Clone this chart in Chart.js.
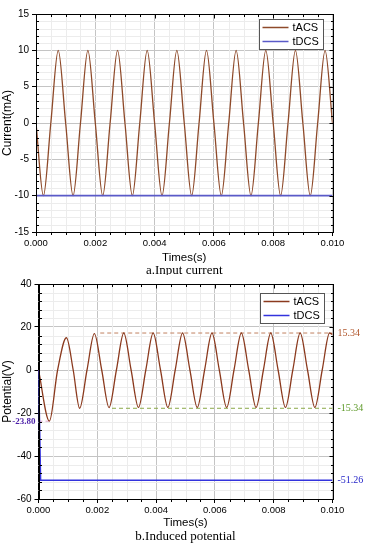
<!DOCTYPE html>
<html>
<head>
<meta charset="utf-8">
<script src="https://cdn.jsdelivr.net/npm/chart.js@4.4.1/dist/chart.umd.min.js"></script>
<style>
  html, body { margin: 0; padding: 0; background: #fff; }
  #wrap { position: relative; width: 372px; height: 550px; }
  canvas { position: absolute; left: 0; }
</style>
</head>
<body>
<div id="wrap">
  <canvas id="currentChart" width="372" height="275" style="top:0"></canvas>
  <canvas id="potentialChart" width="372" height="275" style="top:275px"></canvas>
</div>
<script>
// ---- data ----
const seriesNames = ['tACS', 'tDCS'];
const xTickValues = [0, 0.002, 0.004, 0.006, 0.008, 0.010];
const xTickLabels = ['0.000', '0.002', '0.004', '0.006', '0.008', '0.010'];

// a. Input current
const currentTicks = [-15, -10, -5, 0, 5, 10, 15];
const currentTime = [0, 0.00025, 0.0005, 0.00075, 0.001, 0.00125, 0.0015, 0.00175, 0.002, 0.00225,
  0.0025, 0.00275, 0.003, 0.00325, 0.0035, 0.00375, 0.004, 0.00425, 0.0045, 0.00475,
  0.005, 0.00525, 0.0055, 0.00575, 0.006, 0.00625, 0.0065, 0.00675, 0.007, 0.00725,
  0.0075, 0.00775, 0.008, 0.00825, 0.0085, 0.00875, 0.009, 0.00925, 0.0095, 0.00975, 0.010];
const currentTacs = [0, -10, 0, 10, 0, -10, 0, 10, 0, -10,
  0, 10, 0, -10, 0, 10, 0, -10, 0, 10,
  0, -10, 0, 10, 0, -10, 0, 10, 0, -10,
  0, 10, 0, -10, 0, 10, 0, -10, 0, 10, 0];
const currentDcsTime = [0, 0, 0.010];
const currentDcs = [0, -10, -10];

// b. Induced potential
const potentialTicks = [-60, -40, -20, 0, 20, 40];
const potentialTime = [0, 0.00037, 0.00065, 0.00095, 0.00118, 0.0014, 0.00165, 0.0019, 0.00215, 0.0024,
  0.00265, 0.0029, 0.00315, 0.0034, 0.00365, 0.0039, 0.00415, 0.0044, 0.00465, 0.0049,
  0.00515, 0.0054, 0.00565, 0.0059, 0.00615, 0.0064, 0.00665, 0.0069, 0.00715, 0.0074,
  0.00765, 0.0079, 0.00815, 0.0084, 0.00865, 0.0089, 0.00915, 0.0094, 0.00965, 0.0099, 0.010];
const potentialTacs = [0, -23.8, 0, 15.0, 0, -17.8, 0, 16.9, 0, -17.5,
  0, 17.2, 0, -17.4, 0, 17.2, 0, -17.4, 0, 17.2,
  0, -17.4, 0, 17.2, 0, -17.4, 0, 17.2, 0, -17.4,
  0, 17.2, 0, -17.4, 0, 17.2, 0, -17.4, 0, 17.2, 16.5];
const potentialDcsTime = [0, 0.00007, 0.010];
const potentialDcs = [0, -51.26, -51.26];

// marked levels in panel b (line position, printed label)
const refLevels = [17.2, -17.8, -23.8, -51.26];
const refTexts = ['15.34', '-15.34', '-23.80', '-51.26'];
const refStart = [0.0021, 0.0025, 0, null];
const refEnd = [0.010, 0.010, 0.00037, null];

// ---- helpers ----
const pts = (xs, ys) => xs.map((x, i) => ({ x: x, y: ys[i] }));
const SANS = "'Liberation Sans', Arial, sans-serif";
const SERIF = "'Liberation Serif', 'Times New Roman', serif";
Chart.defaults.font.family = SANS;
Chart.defaults.color = '#000';

// minor grid, frame, mirrored ticks, boxed legend, value labels, caption
const originLook = {
  id: 'originLook',
  beforeDatasetsDraw(chart, args, o) {
    const { ctx, chartArea: a, scales: { x, y } } = chart;
    ctx.save();
    ctx.strokeStyle = '#ececec';
    ctx.lineWidth = 1;
    for (let v = x.min + o.xMinor; v < x.max - 1e-9; v += o.xMinor) {
      if (Math.abs(v / 0.002 - Math.round(v / 0.002)) < 1e-6) continue;
      const px = Math.round(x.getPixelForValue(v)) + 0.5;
      ctx.beginPath(); ctx.moveTo(px, a.top); ctx.lineTo(px, a.bottom); ctx.stroke();
    }
    for (let v = y.min + o.yMinor; v < y.max - 1e-9; v += o.yMinor) {
      if (Math.abs(v / o.yMajor - Math.round(v / o.yMajor)) < 1e-6) continue;
      const py = Math.round(y.getPixelForValue(v)) + 0.5;
      ctx.beginPath(); ctx.moveTo(a.left, py); ctx.lineTo(a.right, py); ctx.stroke();
    }
    ctx.restore();
  },
  afterDraw(chart, args, o) {
    const { ctx, chartArea: a, scales: { x, y } } = chart;
    ctx.save();
    ctx.strokeStyle = '#000';
    ctx.lineWidth = 1;
    const L = Math.round(a.left) + 0.5, R = Math.round(a.right) + 0.5;
    const T = Math.round(a.top) + 0.5, B = Math.round(a.bottom) + 0.5;
    ctx.strokeRect(L, T, R - L, B - T);
    ctx.beginPath();
    for (let v = x.min; v <= x.max + 1e-9; v += o.xMinor) {
      const major = Math.abs(v / 0.002 - Math.round(v / 0.002)) < 1e-6;
      const px = Math.round(x.getPixelForValue(v)) + 0.5;
      const len = major ? 4 : 2.5;
      ctx.moveTo(px, T); ctx.lineTo(px, T + len);
      if (!major) { ctx.moveTo(px, B); ctx.lineTo(px, B + 2.5); }
    }
    for (let v = y.min; v <= y.max + 1e-9; v += o.yMinor) {
      const major = Math.abs(v / o.yMajor - Math.round(v / o.yMajor)) < 1e-6;
      const py = Math.round(y.getPixelForValue(v)) + 0.5;
      const len = major ? 4 : 2.5;
      ctx.moveTo(R, py); ctx.lineTo(R - len, py);
      if (!major) { ctx.moveTo(L, py); ctx.lineTo(L + 2.5, py); }
    }
    ctx.stroke();

    // legend box
    const items = seriesNames.map(n => chart.data.datasets.find(d => d.label === n));
    const bw = 64, bh = 30;
    const bx = Math.round(a.right - o.legendDx - bw) + 0.5;
    const by = Math.round(a.top + o.legendDy) + 0.5;
    ctx.fillStyle = '#fff';
    ctx.fillRect(bx, by, bw, bh);
    ctx.strokeStyle = '#555';
    ctx.strokeRect(bx, by, bw, bh);
    ctx.font = '11px ' + SANS;
    ctx.textBaseline = 'middle';
    items.forEach((d, i) => {
      const cy = by + 8 + i * 14;
      ctx.strokeStyle = d.borderColor;
      ctx.lineWidth = 1.5;
      ctx.beginPath(); ctx.moveTo(bx + 3, cy); ctx.lineTo(bx + 29, cy); ctx.stroke();
      ctx.fillStyle = '#000';
      ctx.textAlign = 'left';
      ctx.fillText(d.label, bx + 33, cy + 0.5);
    });

    // value labels
    (o.refs || []).forEach(r => {
      const py = y.getPixelForValue(r.value);
      ctx.fillStyle = r.color;
      if (r.side === 'left') {
        ctx.font = 'bold 9px ' + SERIF;
        ctx.textAlign = 'right';
        ctx.fillText(r.text, a.left - 3, py + 1);
      } else {
        ctx.font = '10px ' + SERIF;
        ctx.textAlign = 'left';
        ctx.fillText(r.text, a.right + 5, py);
      }
    });

    // caption under the axis title
    ctx.font = '13px ' + SERIF;
    ctx.fillStyle = '#000';
    ctx.textAlign = 'center';
    ctx.fillText(o.caption, (a.left + a.right) / 2, a.bottom + o.captionGap);
    ctx.restore();
  }
};

function xScale(titlePadBottom, height) {
  return {
    type: 'linear', min: 0, max: 0.010,
    afterBuildTicks: s => { s.ticks = xTickValues.map(v => ({ value: v })); },
    afterFit: s => { s.height = height; },
    ticks: {
      font: { size: 9.5 }, padding: 2, maxRotation: 0, autoSkip: false,
      callback: (v) => xTickLabels[xTickValues.findIndex(t => Math.abs(t - v) < 1e-9)]
    },
    grid: { color: '#c4c4c4', tickColor: '#000', tickLength: 4 },
    border: { color: '#000' },
    title: { display: true, text: 'Times(s)', font: { size: 11.5 }, padding: { top: 0, bottom: titlePadBottom } }
  };
}

function yScale(ticks, title, width) {
  return {
    type: 'linear', min: ticks[0], max: ticks[ticks.length - 1],
    afterBuildTicks: s => { s.ticks = ticks.map(v => ({ value: v })); },
    afterFit: s => { s.width = width; },
    ticks: { font: { size: 10 }, padding: 3 },
    grid: { color: '#c4c4c4', tickColor: '#000', tickLength: 4 },
    border: { color: '#000' },
    title: { display: true, text: title, font: { size: 12 }, padding: { top: 0, bottom: 0 } }
  };
}

// ---- a. Input current ----
new Chart(document.getElementById('currentChart'), {
  type: 'line',
  data: {
    datasets: [
      { label: 'tDCS', data: pts(currentDcsTime, currentDcs), borderColor: '#5a5ac8', borderWidth: 1.6 },
      { label: 'tACS', data: pts(currentTime, currentTacs), borderColor: '#8e4a2a', borderWidth: 1.3,
        cubicInterpolationMode: 'monotone' }
    ]
  },
  options: {
    responsive: false, animation: false,
    layout: { padding: { left: 0, right: 39.5, top: 14, bottom: 0 } },
    elements: { point: { radius: 0 } },
    plugins: {
      legend: { display: false }, tooltip: { enabled: false },
      originLook: { xMinor: 0.0005, yMinor: 1, yMajor: 5, legendDx: 9.5, legendDy: 5,
        caption: 'a.Input current', captionGap: 39 }
    },
    scales: { x: xScale(10, 43), y: yScale(currentTicks, 'Current(mA)', 36) }
  },
  plugins: [originLook]
});

// ---- b. Induced potential ----
const refColors = ['#b0562c', '#5e9a2a', '#4b1fa8', '#2525c8'];
const refLineColors = ['#c08060', '#8aa848', '#e0a0c8'];
const refSets = refLevels.slice(0, 3).map((lv, i) => ({
  label: 'ref' + i,
  data: pts([refStart[i], refEnd[i]], [lv, lv]),
  borderColor: refLineColors[i], borderWidth: 1, borderDash: [4, 3]
}));

new Chart(document.getElementById('potentialChart'), {
  type: 'line',
  data: {
    datasets: [
      { label: 'tDCS', data: pts(potentialDcsTime, potentialDcs), borderColor: '#3333dd', borderWidth: 1.6 },
      { label: 'tACS', data: pts(potentialTime, potentialTacs), borderColor: '#8b3a1e', borderWidth: 1.3,
        cubicInterpolationMode: 'monotone' },
      ...refSets
    ]
  },
  options: {
    responsive: false, animation: false,
    layout: { padding: { left: 0, right: 39.5, top: 8, bottom: 0 } },
    elements: { point: { radius: 0 } },
    plugins: {
      legend: { display: false }, tooltip: { enabled: false },
      originLook: { xMinor: 0.0005, yMinor: 4, yMajor: 20, legendDx: 9, legendDy: 8.5,
        caption: 'b.Induced potential', captionGap: 38,
        refs: refLevels.map((v, i) => ({ value: v, text: refTexts[i], color: refColors[i],
          side: i === 2 ? 'left' : 'right' })) }
    },
    scales: { x: xScale(20, 51), y: yScale(potentialTicks, 'Potential(V)', 38.5) }
  },
  plugins: [originLook]
});
</script>
</body>
</html>
